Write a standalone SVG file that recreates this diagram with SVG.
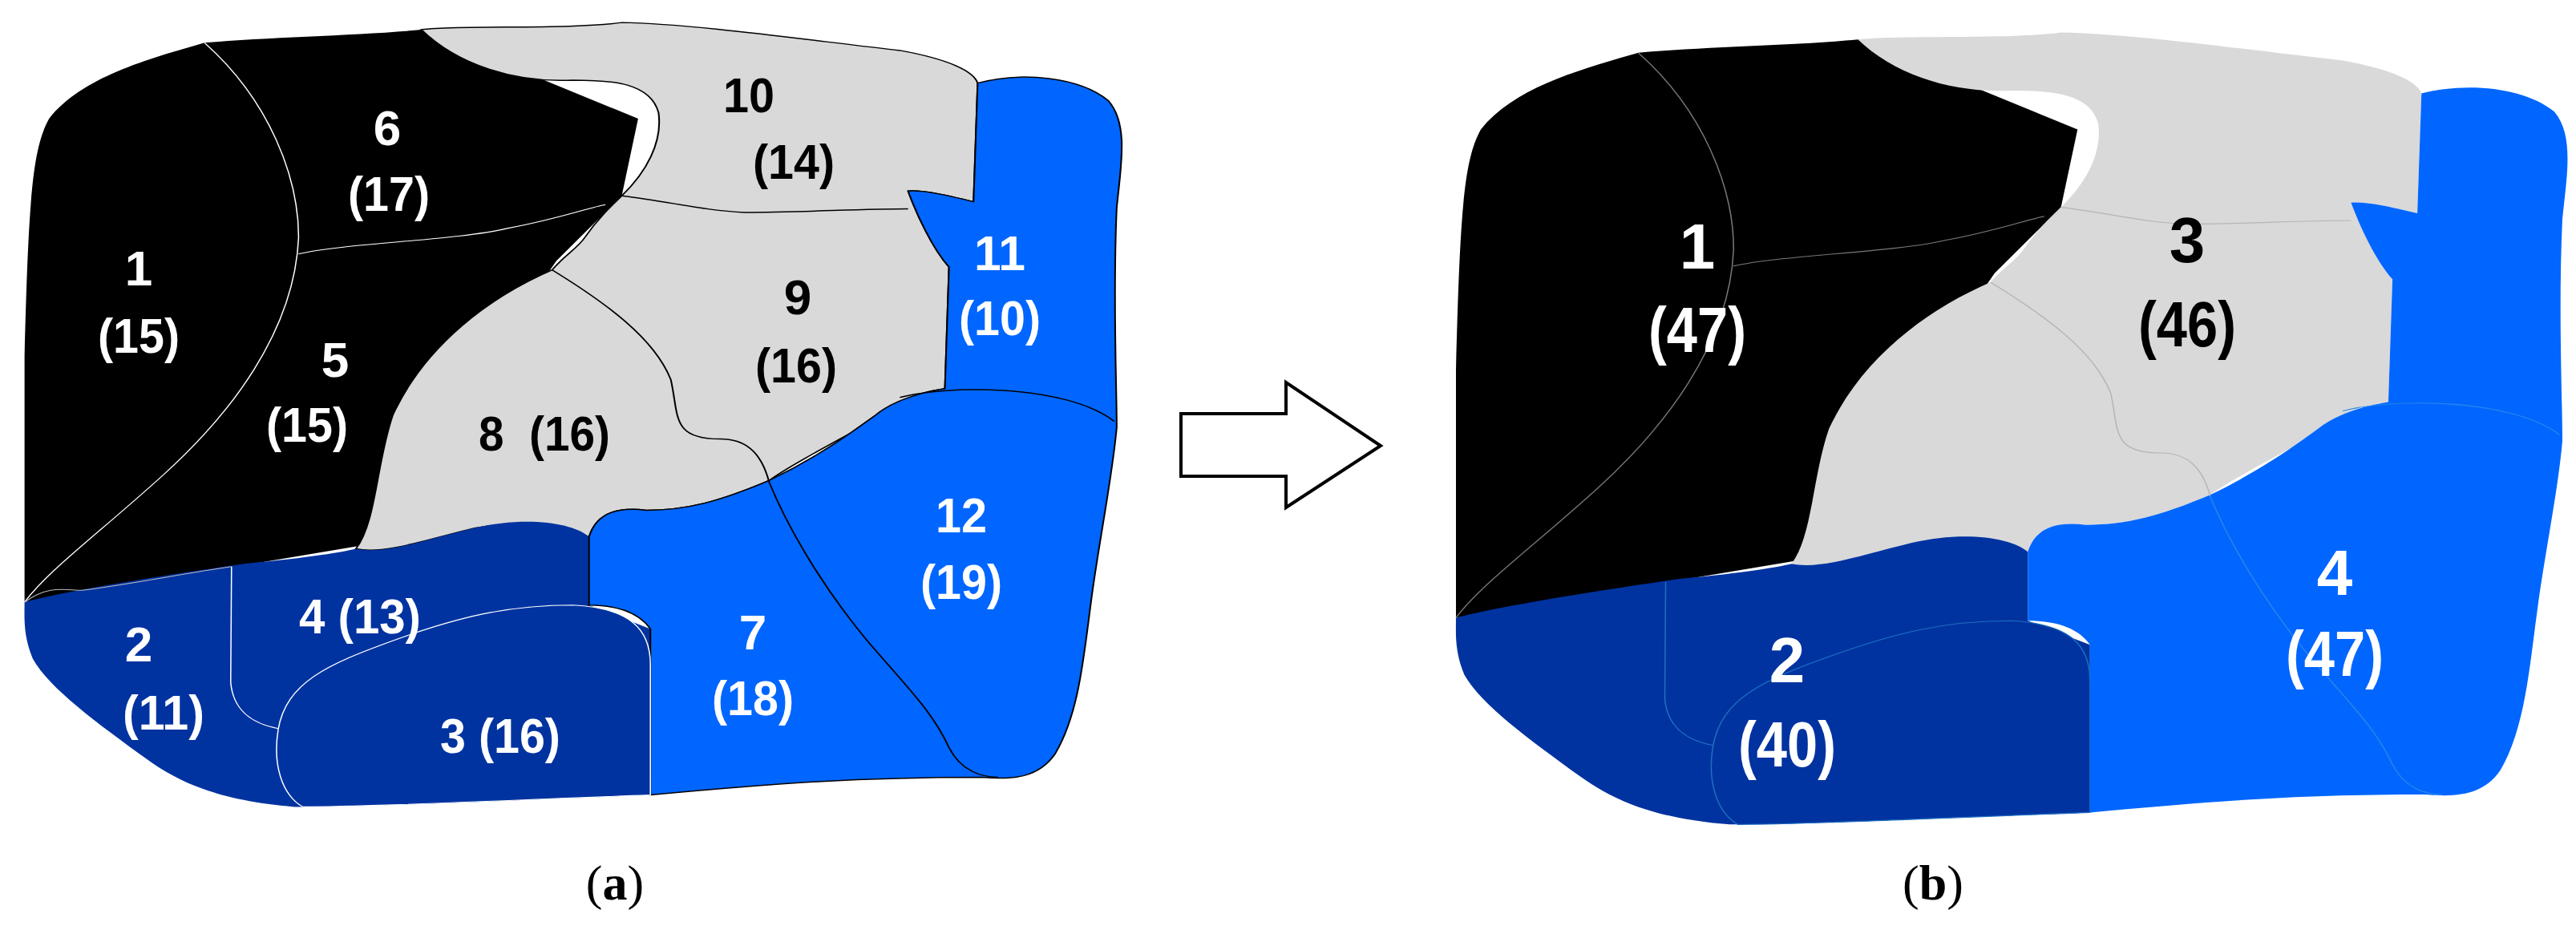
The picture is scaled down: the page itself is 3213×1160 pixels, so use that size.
<svg xmlns="http://www.w3.org/2000/svg" xmlns:xlink="http://www.w3.org/1999/xlink" width="3213" height="1160" viewBox="0 0 3213 1160">
<style>
.lbl{font-family:"Liberation Sans",Arial,sans-serif;font-weight:bold;text-anchor:middle}
.a{font-size:62px}
.b{font-size:80px}
.w{fill:#fff}
.k{fill:#000}
.cap{font-family:"Liberation Serif","Times New Roman",serif;font-size:62px;text-anchor:middle;fill:#000}
.ln{fill:none;vector-effect:non-scaling-stroke}
.sh{vector-effect:non-scaling-stroke}
</style>
<defs>
<path id="blk" d="M250,72 C330,62 440,60 515,50 L780,200 L760,330 L680,440 L440,920 L30,1015 L30,600 C35,330 40,250 60,200 C100,130 180,100 250,72 Z"/>
<path id="gry" d="M515,50 C560,42 700,50 760,38 C850,40 1000,70 1100,85 C1160,100 1190,120 1195,140 L1190,340 C1160,330 1130,320 1110,322 C1120,360 1140,420 1160,450 L1155,655 C1100,665 1070,700 1040,730 C1000,760 960,790 940,810 C880,845 840,860 790,860 C760,855 730,860 720,905 C680,880 620,880 580,890 C520,910 470,935 435,925 C460,880 460,780 480,700 C520,580 600,500 675,455 C690,430 705,420 715,400 C730,370 745,350 760,330 C790,290 810,240 805,190 C795,140 750,135 700,135 C630,140 560,110 515,50 Z"/>
<path id="dbl" d="M30,1015 C100,990 250,960 300,950 C380,940 420,930 435,925 C470,935 520,910 580,890 C640,870 700,880 720,905 L720,1020 L795,1060 L795,1340 C600,1350 450,1360 360,1360 C270,1350 220,1320 180,1280 C120,1220 60,1160 40,1110 C28,1070 30,1040 30,1015 Z"/>
<path id="lbl" d="M1195,140 C1250,120 1320,130 1355,170 C1380,210 1370,280 1365,350 C1360,500 1365,650 1365,720 C1360,800 1345,900 1335,1000 C1325,1100 1320,1200 1290,1270 C1270,1310 1240,1315 1200,1310 C1050,1310 950,1320 795,1340 L795,1060 C780,1030 750,1020 720,1020 L720,905 C730,860 760,855 790,860 C840,860 880,845 940,810 C1000,770 1040,730 1070,700 C1100,665 1155,655 1155,655 L1160,450 C1140,420 1120,360 1110,322 C1130,320 1160,330 1190,340 L1195,140 Z"/>
<path id="r3" d="M370,1360 C345,1340 333,1290 340,1230 C350,1150 400,1120 480,1080 C560,1040 620,1020 700,1020 C770,1025 795,1060 795,1120 L795,1340 C600,1350 450,1360 370,1360 Z"/>
<path id="l15" d="M250,72 C330,170 365,300 365,400 C360,560 280,700 200,800 C120,900 60,960 30,1015"/>
<path id="l65" d="M365,428 C420,410 560,405 620,385 C680,370 720,350 740,345"/>
<path id="l109" d="M760,330 C820,340 860,355 910,358 C980,358 1050,352 1110,352"/>
<path id="l89" d="M675,455 C740,510 800,570 820,640 C830,700 820,740 880,740 C910,740 930,760 940,812"/>
<path id="l712" d="M940,812 C960,880 1000,980 1060,1080 C1110,1160 1140,1200 1160,1260 C1175,1300 1200,1310 1220,1310"/>
<path id="l12t" d="M1100,670 C1150,650 1300,645 1362,710"/>
<path id="l24" d="M283,955 L282,1150 C285,1200 310,1220 340,1228"/>
<path id="l2b" d="M30,1015 C60,985 80,995 100,995 C160,985 230,965 283,955"/>
</defs>

<g id="panel-a" transform="scale(1.0204,0.74)">
<g id="a-region-1-5-6"><use xlink:href="#blk" fill="#000"/></g>
<g id="a-region-8-9-10"><use xlink:href="#gry" fill="#d9d9d9" stroke="#000" stroke-width="2" class="sh"/></g>
<g id="a-region-2-4"><use xlink:href="#dbl" fill="#0033a0"/></g>
<g id="a-region-7-11-12"><use xlink:href="#lbl" fill="#0066ff" stroke="#000" stroke-width="2" class="sh"/></g>
<g id="a-region-3"><use xlink:href="#r3" fill="#0033a0" stroke="#fff" stroke-width="1.5" class="sh"/></g>
<g id="a-borders">
<use xlink:href="#l15" stroke="#fff" stroke-width="1.5" class="ln"/>
<use xlink:href="#l65" stroke="#fff" stroke-width="1.5" class="ln"/>
<use xlink:href="#l109" stroke="#000" stroke-width="2" class="ln"/>
<use xlink:href="#l89" stroke="#000" stroke-width="2" class="ln"/>
<use xlink:href="#l712" stroke="#000" stroke-width="2" class="ln"/>
<use xlink:href="#l12t" stroke="#000" stroke-width="2" class="ln"/>
<use xlink:href="#l24" stroke="#fff" stroke-width="1.5" class="ln"/>
<use xlink:href="#l2b" stroke="#bbb" stroke-width="1.5" class="ln"/>
</g>
</g>

<g id="panel-b" transform="translate(1785,12) scale(1.0337,0.7473)">
<g id="b-region-1"><use xlink:href="#blk" fill="#000"/></g>
<g id="b-region-3"><use xlink:href="#gry" fill="#d9d9d9"/></g>
<g id="b-region-2"><use xlink:href="#dbl" fill="#0033a0"/><use xlink:href="#r3" fill="#0033a0" stroke="#1d6fc0" stroke-width="1.5" class="sh"/></g>
<g id="b-region-4"><use xlink:href="#lbl" fill="#0066ff"/></g>
<g id="b-borders">
<use xlink:href="#l15" stroke="#777" stroke-width="1.5" class="ln"/>
<use xlink:href="#l65" stroke="#777" stroke-width="1.5" class="ln"/>
<use xlink:href="#l109" stroke="#b5b5b5" stroke-width="1.5" class="ln"/>
<use xlink:href="#l89" stroke="#b5b5b5" stroke-width="1.5" class="ln"/>
<use xlink:href="#l712" stroke="#2a86e8" stroke-width="1.5" class="ln"/>
<use xlink:href="#l12t" stroke="#2a86e8" stroke-width="1.5" class="ln"/>
<use xlink:href="#l24" stroke="#1d6fc0" stroke-width="1.5" class="ln"/>
</g>
</g>

<g id="connectors">
<path d="M1473,516 L1604,516 L1604,477 L1722,556 L1604,633 L1604,594 L1473,594 Z" fill="#fff" stroke="#000" stroke-width="4" stroke-linejoin="miter"/>
</g>

<g id="labels-a" class="lbl a">
<text x="483" y="181" class="w">6</text><text x="485" y="263" class="w" textLength="102" lengthAdjust="spacingAndGlyphs">(17)</text>
<text x="934" y="140" class="k" textLength="64" lengthAdjust="spacingAndGlyphs">10</text><text x="990" y="223" class="k" textLength="102" lengthAdjust="spacingAndGlyphs">(14)</text>
<text x="173" y="356" class="w">1</text><text x="173" y="440" class="w" textLength="102" lengthAdjust="spacingAndGlyphs">(15)</text>
<text x="418" y="470" class="w">5</text><text x="383" y="551" class="w" textLength="102" lengthAdjust="spacingAndGlyphs">(15)</text>
<text x="995" y="392" class="k">9</text><text x="993" y="477" class="k" textLength="102" lengthAdjust="spacingAndGlyphs">(16)</text>
<text x="1247" y="337" class="w" textLength="64" lengthAdjust="spacingAndGlyphs">11</text><text x="1247" y="418" class="w" textLength="102" lengthAdjust="spacingAndGlyphs">(10)</text>
<text x="679" y="562" class="k" xml:space="preserve" textLength="164" lengthAdjust="spacingAndGlyphs">8  (16)</text>
<text x="1199" y="664" class="w" textLength="64" lengthAdjust="spacingAndGlyphs">12</text><text x="1199" y="747" class="w" textLength="102" lengthAdjust="spacingAndGlyphs">(19)</text>
<text x="449" y="790" class="w" textLength="152" lengthAdjust="spacingAndGlyphs">4 (13)</text>
<text x="173" y="825" class="w">2</text><text x="204" y="910" class="w" textLength="102" lengthAdjust="spacingAndGlyphs">(11)</text>
<text x="939" y="810" class="w">7</text><text x="939" y="892" class="w" textLength="102" lengthAdjust="spacingAndGlyphs">(18)</text>
<text x="624" y="939" class="w" textLength="150" lengthAdjust="spacingAndGlyphs">3 (16)</text>
</g>
<g id="labels-b" class="lbl b">
<text x="2117" y="335" class="w">1</text><text x="2117" y="439" class="w" textLength="122" lengthAdjust="spacingAndGlyphs">(47)</text>
<text x="2728" y="327" class="k">3</text><text x="2728" y="432" class="k" textLength="122" lengthAdjust="spacingAndGlyphs">(46)</text>
<text x="2229" y="851" class="w">2</text><text x="2229" y="956" class="w" textLength="122" lengthAdjust="spacingAndGlyphs">(40)</text>
<text x="2912" y="742" class="w">4</text><text x="2912" y="843" class="w" textLength="122" lengthAdjust="spacingAndGlyphs">(47)</text>
</g>
<g id="captions">
<text x="767" y="1122" class="cap">(<tspan font-weight="bold">a</tspan>)</text>
<text x="2411" y="1122" class="cap">(<tspan font-weight="bold">b</tspan>)</text>
</g>
</svg>
